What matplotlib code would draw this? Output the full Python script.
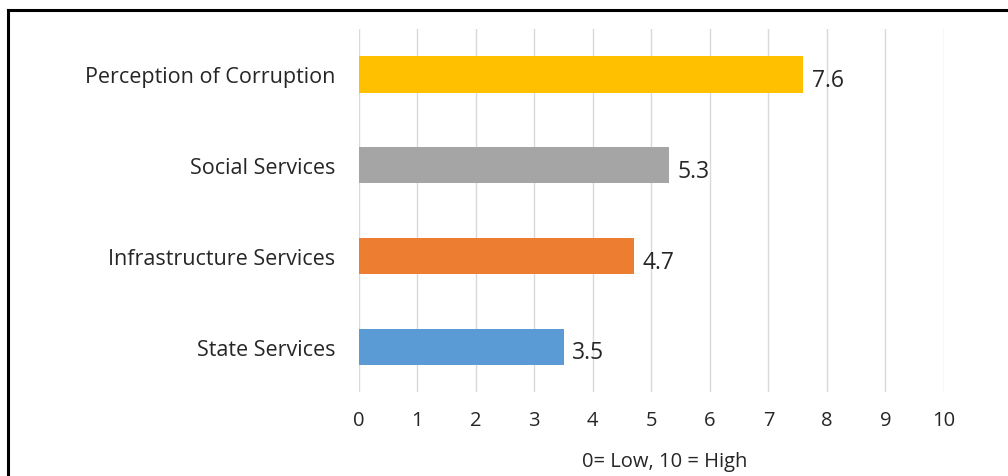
import matplotlib.pyplot as plt
from matplotlib.lines import Line2D

plt.rcParams['font.family'] = ['Open Sans', 'DejaVu Sans']

# categories from bottom to top
categories = ['State Services', 'Infrastructure Services', 'Social Services', 'Perception of Corruption']
values = [3.5, 4.7, 5.3, 7.6]
colors = ['#5B9BD5', '#ED7D31', '#A5A5A5', '#FFC000']
ticks = list(range(0, 11))

fig = plt.figure(figsize=(10.08, 4.77), dpi=100)
ax = fig.add_axes([0.356, 0.176, 0.5804, 0.761])

ax.barh(categories, values, height=0.4, color=colors, zorder=3)
for i, v in enumerate(values):
    ax.text(v + 0.15, i - 0.03, f'{v:.1f}', va='center_baseline', ha='left', fontsize=16.5, color='#262626')

ax.set_xlim(0, 10)
ax.set_ylim(-0.5, 3.5)
ax.set_xticks(ticks)
ax.xaxis.grid(True, color='#D9D9D9', linewidth=1.0, zorder=0)
ax.tick_params(axis='both', length=0, colors='#262626')
ax.tick_params(axis='x', pad=13, labelsize=14.5)
ax.tick_params(axis='y', pad=17, labelsize=15.5)
for s in ax.spines.values():
    s.set_visible(False)

fig.text(665 / 1008, 1 - 462 / 477, '0= Low, 10 = High', ha='center', va='center', fontsize=14.5, color='#262626')

# frame lines (top and left) as in the screenshot
fig.add_artist(Line2D([8 / 1008, 1], [1 - 11 / 477, 1 - 11 / 477], transform=fig.transFigure, color='black', linewidth=2.2))
fig.add_artist(Line2D([8 / 1008, 8 / 1008], [0, 1 - 11 / 477], transform=fig.transFigure, color='black', linewidth=2.2))

fig.savefig('out.png', dpi=100)
